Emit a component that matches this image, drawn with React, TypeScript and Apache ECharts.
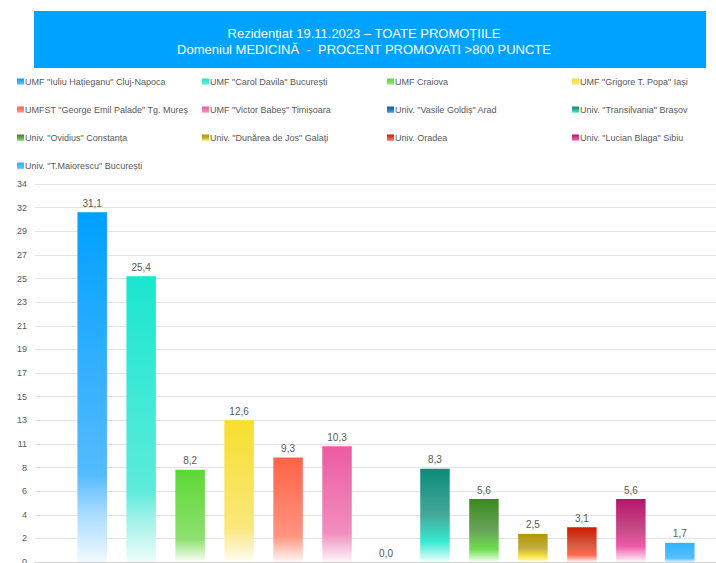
import React, { useEffect, useRef } from "react";
import * as echarts from "echarts";

const titleLines = [
  "Rezidențiat 19.11.2023 – TOATE PROMOȚIILE",
  "Domeniul MEDICINĂ  -  PROCENT PROMOVATI >800 PUNCTE",
];

const universities = [
  'UMF "Iuliu Hațieganu" Cluj-Napoca',
  'UMF "Carol Davila" București',
  "UMF Craiova",
  'UMF "Grigore T. Popa" Iași',
  'UMFST "George Emil Palade" Tg. Mureș',
  'UMF "Victor Babeș" Timișoara',
  'Univ. "Vasile Goldiș" Arad',
  'Univ. "Transilvania" Brașov',
  'Univ. "Ovidius" Constanța',
  'Univ. "Dunărea de Jos" Galați',
  "Univ. Oradea",
  'Univ. "Lucian Blaga" Sibiu',
  'Univ. "T.Maiorescu" București',
];

const percentPromoted = [31.1, 25.4, 8.2, 12.6, 9.3, 10.3, 0.0, 8.3, 5.6, 2.5, 3.1, 5.6, 1.7];

const yTickLabels = ["0", "2", "4", "6", "8", "11", "13", "15", "17", "19", "21", "23", "25", "27", "29", "32", "34"];

const gradientStops: [number, string][][] = [
  [[0, "#00A0FF"], [0.75, "#55BBFF"], [0.86, "#A8DBFF"], [1, "#F2F9FF"]],
  [[0, "#1AE6CF"], [0.75, "#5EEBDA"], [0.86, "#A5F3EA"], [1, "#F0FDFB"]],
  [[0, "#5DD835"], [0.75, "#8EE070"], [0.88, "#C8EFB8"], [1, "#FAFFF8"]],
  [[0, "#F8DE2F"], [0.75, "#F9E77A"], [0.9, "#FCF3C4"], [1, "#FFFEF5"]],
  [[0, "#FF6347"], [0.75, "#FF9480"], [0.88, "#FFC8BC"], [1, "#FFF8F6"]],
  [[0, "#EC5BA1"], [0.75, "#F18EBE"], [0.88, "#F7C4DD"], [1, "#FFF7FB"]],
  [[0, "#0D5FA0"], [0.8, "#3A96D6"], [1, "#E8F4FF"]],
  [[0, "#0E8A7B"], [0.5, "#45A99A"], [0.78, "#36EAD2"], [1, "#F0FFFD"]],
  [[0, "#3A8A1E"], [0.5, "#6AA45A"], [0.8, "#6EE050"], [1, "#F6FFF2"]],
  [[0, "#B39800"], [0.5, "#C2AC40"], [0.8, "#F8E640"], [1, "#FFFDF0"]],
  [[0, "#CB1A00"], [0.5, "#D45A40"], [0.8, "#FF6A50"], [1, "#FFF4F2"]],
  [[0, "#B5166A"], [0.5, "#C84D88"], [0.75, "#EE5AA8"], [1, "#FFF5FA"]],
  [[0, "#2DB3FF"], [0.8, "#55C0FF"], [1, "#D8F0FF"]],
];

const legendColumns = [
  [0, 4, 8, 12],
  [1, 5, 9],
  [2, 6, 10],
  [3, 7, 11],
];
const legendLefts = [17, 202, 387, 572];

const FONT = '"Liberation Sans", Arial, sans-serif';

export default function App() {
  const ref = useRef<HTMLDivElement>(null);

  useEffect(() => {
    if (!ref.current) return;
    const chart = echarts.init(ref.current, undefined, { renderer: "svg" });

    const series = universities.map((name, i) => ({
      name,
      type: "bar",
      xAxisIndex: 1,
      yAxisIndex: 1,
      data: [percentPromoted[i]],
      barWidth: 29.5,
      barGap: "66%",
      itemStyle: {
        color: new echarts.graphic.LinearGradient(
          0, 0, 0, 1,
          gradientStops[i].map(([offset, color]) => ({ offset, color }))
        ),
      },
      label: {
        show: true,
        position: "top",
        distance: 4,
        color: "#595959",
        fontSize: 10,
        fontFamily: FONT,
        formatter: (p: any) => Number(p.value).toFixed(1).replace(".", ","),
      },
    }));

    const legends = legendColumns.map((col, ci) => ({
      orient: "vertical",
      left: legendLefts[ci],
      top: 76,
      itemWidth: 7,
      itemHeight: 7,
      itemGap: 16,
      icon: "rect",
      selectedMode: false,
      padding: 0,
      textStyle: {
        color: "#595959",
        fontSize: 9,
        fontFamily: FONT,
        lineHeight: 12,
        padding: [0, 0, 0, -4],
      },
      data: col.map((idx) => universities[idx]),
    }));

    chart.setOption({
      animation: false,
      textStyle: { fontFamily: FONT },
      graphic: [
        {
          type: "rect",
          shape: { x: 34, y: 11, width: 672, height: 57 },
          style: { fill: "#00A2FF" },
          silent: true,
        },
        {
          type: "text",
          x: 364,
          y: 33,
          style: {
            text: titleLines[0],
            fill: "#FFFFFF",
            font: `13px ${FONT}`,
            textAlign: "center",
            textVerticalAlign: "middle",
          },
        },
        {
          type: "text",
          x: 364,
          y: 49,
          style: {
            text: titleLines[1],
            fill: "#FFFFFF",
            font: `13px ${FONT}`,
            textAlign: "center",
            textVerticalAlign: "middle",
          },
        },
      ],
      legend: legends,
      grid: [
        { left: 35, right: 0, top: 184, bottom: 1, containLabel: false, outerBoundsMode: "none" },
        { left: 56, right: 0, top: 184, bottom: 1, containLabel: false, outerBoundsMode: "none" },
      ],
      xAxis: [
        {
          type: "category",
          gridIndex: 0,
          data: [""],
          axisLine: { show: true, lineStyle: { color: "#D0D0D0", width: 1 } },
          axisTick: { show: false },
          axisLabel: { show: false },
        },
        {
          type: "category",
          gridIndex: 1,
          data: [""],
          axisLine: { show: false },
          axisTick: { show: false },
          axisLabel: { show: false },
        },
      ],
      yAxis: [
        {
          type: "value",
          gridIndex: 0,
          min: 0,
          max: 33.6,
          interval: 2.1,
          axisLine: { show: false },
          axisTick: { show: false },
          axisLabel: {
            color: "#595959",
            fontSize: 9,
            fontFamily: FONT,
            margin: 8,
            formatter: (v: number) => yTickLabels[Math.round(v / 2.1)] ?? "",
          },
          splitLine: { lineStyle: { color: "#E3E3E3", width: 1 } },
        },
        {
          type: "value",
          gridIndex: 1,
          min: 0,
          max: 33.6,
          interval: 2.1,
          axisLine: { show: false },
          axisTick: { show: false },
          axisLabel: { show: false },
          splitLine: { show: false },
        },
      ],
      series,
    });

    return () => chart.dispose();
  }, []);

  return (
    <div
      ref={ref}
      style={{ position: "fixed", left: 0, top: 0, width: 716, height: 563, background: "#fff" }}
    />
  );
}
